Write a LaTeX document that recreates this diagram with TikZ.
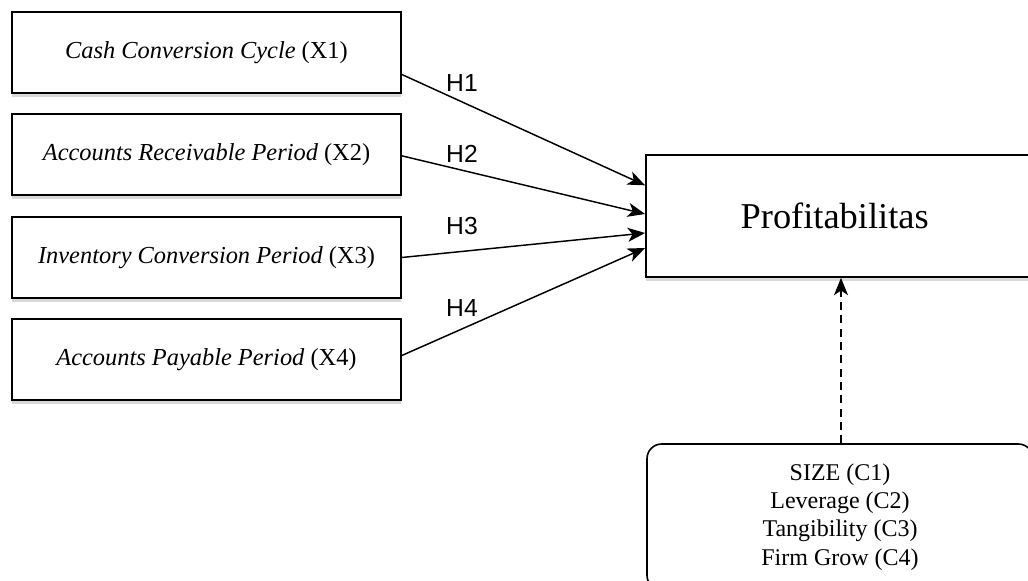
\documentclass[tikz,border=0pt]{standalone}
\usepackage{fontspec}
\setmainfont{Liberation Serif}
\newfontfamily\hfont{Liberation Sans}
\usetikzlibrary{arrows.meta,shadows,calc}
\begin{document}
\begin{tikzpicture}[x=0.75pt,y=-0.75pt,
  sh/.style={drop shadow={shadow xshift=0pt, shadow yshift=-3pt, opacity=0.3, fill=black!50}},
  varbox/.style={draw, line width=1.3pt, fill=white, sh, minimum width=291.75pt, minimum height=60.75pt, inner sep=0pt, font=\fontsize{18.3}{22}\selectfont},
  depbox/.style={draw, line width=1.3pt, fill=white, sh, minimum width=288pt, minimum height=91.5pt, inner sep=0pt, font=\fontsize{27.3}{32}\selectfont},
  ctrlbox/.style={draw, line width=1.2pt, fill=white, rounded corners=11pt, minimum width=289.5pt, minimum height=109.5pt, inner sep=0pt, align=center, font=\fontsize{18}{21.2}\selectfont},
  hlabel/.style={font=\hfont\fontsize{18.5}{21}\selectfont, inner sep=0pt},
  arr/.style={line width=1.1pt, -{Stealth[length=13pt, width=10.5pt, inset=3.5pt]}},
  darr/.style={line width=1.1pt, dash pattern=on 6pt off 4pt, -{Stealth[length=13pt, width=10.5pt, inset=3.5pt]}}]
\useasboundingbox (0,0) rectangle (1028,581);
\node[varbox] (b1) at (206.5,52.5) {\textit{Cash Conversion Cycle} (X1)};
\node[varbox] (b2) at (206.5,154.5) {\textit{Accounts Receivable Period} (X2)};
\node[varbox] (b3) at (206.5,257.5) {\textit{Inventory Conversion Period} (X3)};
\node[varbox] (b4) at (206.5,359.5) {\textit{Accounts Payable Period} (X4)};
\node[depbox] (p) at (838,216) {\hspace*{-5pt}Profitabilitas};
\node[ctrlbox] (c) at (840,517) {SIZE (C1)\\Leverage (C2)\\Tangibility (C3)\\Firm Grow (C4)};
\draw[arr] ($(b1.east)+(0,-16.5pt)$) -- ($(p.west)+(0,23pt)$);
\draw[arr] ($(b2.east)+(0,-1pt)$) -- ($(p.west)+(0,1.5pt)$);
\draw[arr] ($(b3.east)+(0,0pt)$) -- ($(p.west)+(0,-12.75pt)$);
\draw[arr] ($(b4.east)+(0,3pt)$) -- ($(p.west)+(0,-24pt)$);
\node[hlabel] (h1) at (462,83) {H1};
\node[hlabel] (h2) at (462,154) {H2};
\node[hlabel] (h3) at (462,226) {H3};
\node[hlabel] (h4) at (462,308) {H4};
\draw[darr] ($(c.north)+(0.75pt,0)$) -- ($(c.north |- p.south)+(0.75pt,0)$);
\end{tikzpicture}
\end{document}
